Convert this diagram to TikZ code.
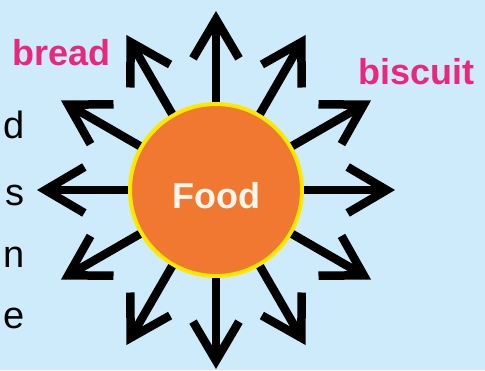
\documentclass[tikz,border=0pt]{standalone}
\usepackage{fontspec}
\setmainfont{Liberation Sans}
\usetikzlibrary{arrows.meta}
\definecolor{bgblue}{HTML}{CDEBFB}
\definecolor{foodorange}{HTML}{F07830}
\definecolor{rimyellow}{HTML}{FFE800}
\definecolor{pinktext}{HTML}{E8287F}
\tikzset{
  ray/.style={line width=8.5pt, line join=miter, -{Straight Barb[length=39pt,width=46pt,line join=miter]}},
  pinklabel/.style={text=pinktext, font=\fontsize{36}{40}\selectfont\bfseries, inner sep=0pt, anchor=base west},
  sidelabel/.style={text=black, font=\fontsize{38}{44}\selectfont, inner sep=0pt, anchor=base east},
}
\begin{document}
\begin{tikzpicture}[x=1pt,y=-1pt]
\useasboundingbox (0,0) rectangle (485,370);
\fill[bgblue] (0,0) rectangle (485,370);
\foreach \a in {0,30,...,330} {
  \coordinate (t\a) at ([shift={(\a:179)}]216,190);
}
\node[circle, draw=rimyellow, line width=4pt, fill=foodorange, minimum size=172pt, inner sep=0pt] (food) at (216,190) {};
\foreach \a in {0,30,...,330} {
  \draw[ray] (food) -- (t\a);
}
\node[text=white!93!orange, font=\fontsize{36}{40}\selectfont\bfseries, inner sep=0pt, anchor=base] (foodlabel) at (216,208) {Food};
\node[pinklabel] (bread) at (12,65) {bread};
\node[pinklabel] (biscuit) at (358,84) {biscuit};
\node[sidelabel] (ld) at (25,138) {d};
\node[sidelabel] (ls) at (25,205) {s};
\node[sidelabel] (ln) at (25,267) {n};
\node[sidelabel] (le) at (25,328) {e};
\end{tikzpicture}
\end{document}
